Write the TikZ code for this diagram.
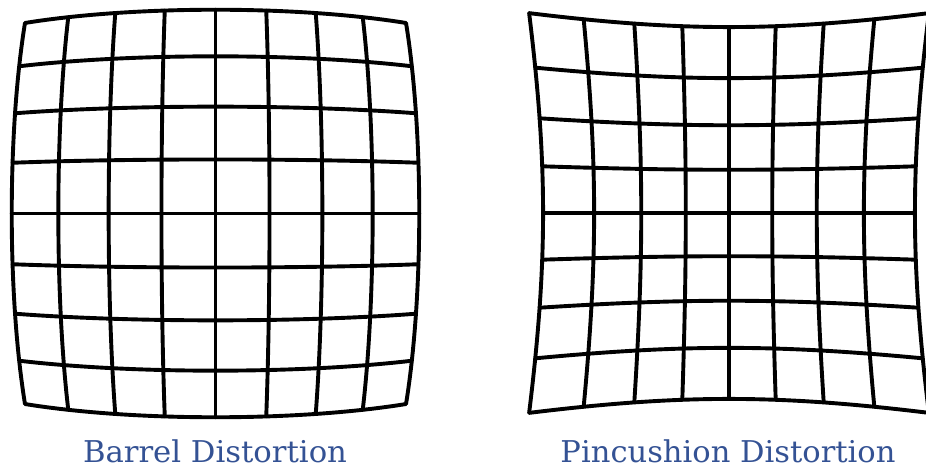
\documentclass[tikz,border=0pt]{standalone}
\usepackage{fontspec}
\newfontfamily\capfont{DejaVu Serif}
\definecolor{labelblue}{RGB}{52,82,148}
\tikzset{
  gridline/.style={line width=3.9pt, line join=round, line cap=round, black},
  caption/.style={anchor=base, text=labelblue, font=\capfont\fontsize{30}{34}\selectfont, inner sep=0pt}
}
\begin{document}
\begin{tikzpicture}[x=1pt,y=-1pt]
\useasboundingbox (0,0) rectangle (926,470);
\clip (0,0) rectangle (926,470);
% Barrel distortion
\def\cx{215.5}\def\cy{213.5}\def\s{217}\def\k{-0.061}
\foreach \i in {0,...,8}{
  \pgfmathsetmacro{\v}{\i/4-1}
  \draw[gridline] plot[domain=-1:1, samples=41, smooth, variable=\t]
    ({\cx + \s*(\t)*(1+\k*((\t)*(\t)+(\v)*(\v)))}, {\cy + \s*(\v)*(1+\k*((\t)*(\t)+(\v)*(\v)))});
  \draw[gridline] plot[domain=-1:1, samples=41, smooth, variable=\t]
    ({\cx + \s*(\v)*(1+\k*((\t)*(\t)+(\v)*(\v)))}, {\cy + \s*(\t)*(1+\k*((\t)*(\t)+(\v)*(\v)))});
}
% Pincushion distortion
\def\px{729}\def\py{213}\def\ps{172}\def\pk{0.081}
\foreach \i in {0,...,8}{
  \pgfmathsetmacro{\v}{\i/4-1}
  \draw[gridline] plot[domain=-1:1, samples=41, smooth, variable=\t]
    ({\px + \ps*(\t)*(1+\pk*((\t)*(\t)+(\v)*(\v)))}, {\py + \ps*(\v)*(1+\pk*((\t)*(\t)+(\v)*(\v)))});
  \draw[gridline] plot[domain=-1:1, samples=41, smooth, variable=\t]
    ({\px + \ps*(\v)*(1+\pk*((\t)*(\t)+(\v)*(\v)))}, {\py + \ps*(\t)*(1+\pk*((\t)*(\t)+(\v)*(\v)))});
}
\node[caption] (barrel) at (215,462) {\resizebox{264pt}{\height}{Barrel Distortion}};
\node[caption] (pincushion) at (728,462) {\resizebox{335pt}{\height}{Pincushion Distortion}};
\end{tikzpicture}
\end{document}
